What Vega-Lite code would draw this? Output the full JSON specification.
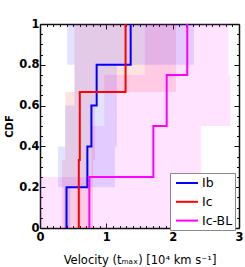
{
  "$schema": "https://vega.github.io/schema/vega-lite/v6.json",
  "width": 199,
  "height": 204,
  "autosize": "none",
  "padding": {"left": 40, "top": 24, "right": 6, "bottom": 39},
  "datasets": {
    "boxes": [
      {"sn": "Ic-BL", "x1": 0.0, "x2": 2.43, "y1": 0.0, "y2": 0.25},
      {"sn": "Ic-BL", "x1": 0.78, "x2": 2.43, "y1": 0.25, "y2": 0.5},
      {"sn": "Ic-BL", "x1": 0.97, "x2": 2.87, "y1": 0.5, "y2": 0.75},
      {"sn": "Ic-BL", "x1": 1.58, "x2": 2.84, "y1": 0.75, "y2": 1.0},
      {"sn": "Ic", "x1": 0.33, "x2": 0.8, "y1": 0.0, "y2": 0.3333},
      {"sn": "Ic", "x1": 0.38, "x2": 0.83, "y1": 0.3333, "y2": 0.6667},
      {"sn": "Ic", "x1": 0.52, "x2": 2.05, "y1": 0.6667, "y2": 1.0},
      {"sn": "Ib", "x1": 0.36, "x2": 0.46, "y1": 0.0, "y2": 0.2},
      {"sn": "Ib", "x1": 0.27, "x2": 1.13, "y1": 0.2, "y2": 0.4},
      {"sn": "Ib", "x1": 0.38, "x2": 1.16, "y1": 0.4, "y2": 0.6},
      {"sn": "Ib", "x1": 0.52, "x2": 1.16, "y1": 0.6, "y2": 0.8},
      {"sn": "Ib", "x1": 0.41, "x2": 2.32, "y1": 0.8, "y2": 1.0}
    ],
    "steps": [
      {"sn": "Ib", "o": 0, "v": 0.40, "c": 0},
      {"sn": "Ib", "o": 1, "v": 0.40, "c": 0.2},
      {"sn": "Ib", "o": 2, "v": 0.714, "c": 0.2},
      {"sn": "Ib", "o": 3, "v": 0.714, "c": 0.4},
      {"sn": "Ib", "o": 4, "v": 0.775, "c": 0.4},
      {"sn": "Ib", "o": 5, "v": 0.775, "c": 0.6},
      {"sn": "Ib", "o": 6, "v": 0.854, "c": 0.6},
      {"sn": "Ib", "o": 7, "v": 0.854, "c": 0.8},
      {"sn": "Ib", "o": 8, "v": 1.367, "c": 0.8},
      {"sn": "Ib", "o": 9, "v": 1.367, "c": 1.0},
      {"sn": "Ic", "o": 0, "v": 0.585, "c": 0},
      {"sn": "Ic", "o": 1, "v": 0.585, "c": 0.3333},
      {"sn": "Ic", "o": 2, "v": 0.60, "c": 0.3333},
      {"sn": "Ic", "o": 3, "v": 0.60, "c": 0.6667},
      {"sn": "Ic", "o": 4, "v": 1.29, "c": 0.6667},
      {"sn": "Ic", "o": 5, "v": 1.29, "c": 1.0},
      {"sn": "Ic-BL", "o": 0, "v": 0.744, "c": 0},
      {"sn": "Ic-BL", "o": 1, "v": 0.744, "c": 0.25},
      {"sn": "Ic-BL", "o": 2, "v": 1.709, "c": 0.25},
      {"sn": "Ic-BL", "o": 3, "v": 1.709, "c": 0.5},
      {"sn": "Ic-BL", "o": 4, "v": 1.91, "c": 0.5},
      {"sn": "Ic-BL", "o": 5, "v": 1.91, "c": 0.75},
      {"sn": "Ic-BL", "o": 6, "v": 2.22, "c": 0.75},
      {"sn": "Ic-BL", "o": 7, "v": 2.22, "c": 1.0}
    ]
  },
  "config": {
    "view": {"stroke": null},
    "axis": {
      "grid": false,
      "domainColor": "#111",
      "domainWidth": 1.5,
      "tickColor": "#111",
      "tickWidth": 1,
      "labelFont": "DejaVu Sans",
      "labelFontSize": 11.5,
      "labelFontWeight": "bold",
      "labelColor": "#000",
      "labelOverlap": false,
      "labelFlush": false,
      "labelBound": false,
      "titleFont": "DejaVu Sans",
      "titleColor": "#000"
    }
  },
  "layer": [
    {
      "data": {"name": "boxes"},
      "mark": {"type": "rect", "fillOpacity": 0.11, "strokeWidth": 0},
      "encoding": {
        "x": {
          "field": "x1", "type": "quantitative",
          "scale": {"domain": [0, 3], "nice": false, "zero": false},
          "axis": {
            "orient": "bottom",
            "values": [0,0.1,0.2,0.3,0.4,0.5,0.6,0.7,0.8,0.9,1,1.1,1.2,1.3,1.4,1.5,1.6,1.7,1.8,1.9,2,2.1,2.2,2.3,2.4,2.5,2.6,2.7,2.8,2.9,3],
            "labelExpr": "round(datum.value*10) % 10 === 0 ? format(datum.value, 'd') : ''",
            "tickSize": {"condition": {"test": "round(datum.value*10) % 10 === 0", "value": -5}, "value": -2.5},
            "labelPadding": 8,
            "title": "Velocity (tₘₐₓ) [10⁴ km s⁻¹]",
            "titleFontWeight": "normal",
            "titleFontSize": 11.5,
            "titlePadding": 9
          }
        },
        "x2": {"field": "x2"},
        "y": {
          "field": "y1", "type": "quantitative",
          "scale": {"domain": [0, 1], "nice": false},
          "axis": {
            "orient": "left",
            "values": [0,0.05,0.1,0.15,0.2,0.25,0.3,0.35,0.4,0.45,0.5,0.55,0.6,0.65,0.7,0.75,0.8,0.85,0.9,0.95,1],
            "labelExpr": "round(datum.value*20) % 4 === 0 ? format(datum.value, '~g') : ''",
            "tickSize": {"condition": {"test": "round(datum.value*20) % 4 === 0", "value": -5}, "value": -2.5},
            "labelPadding": 6,
            "title": "CDF",
            "titleFontWeight": "bold",
            "titleFontSize": 10,
            "titlePadding": 4
          }
        },
        "y2": {"field": "y2"},
        "fill": {
          "field": "sn", "type": "nominal",
          "scale": {"range": ["#0000ff", "#ff0000", "#ff00ff"]},
          "legend": null
        }
      }
    },
    {
      "data": {"name": "steps"},
      "mark": {"type": "line", "strokeWidth": 2},
      "encoding": {
        "x": {
          "field": "v", "type": "quantitative",
          "axis": {
            "orient": "top",
            "values": [0,0.1,0.2,0.3,0.4,0.5,0.6,0.7,0.8,0.9,1,1.1,1.2,1.3,1.4,1.5,1.6,1.7,1.8,1.9,2,2.1,2.2,2.3,2.4,2.5,2.6,2.7,2.8,2.9,3],
            "labels": false,
            "tickSize": {"condition": {"test": "round(datum.value*10) % 10 === 0", "value": -5}, "value": -2.5},
            "title": null
          }
        },
        "y": {
          "field": "c", "type": "quantitative",
          "axis": {
            "orient": "right",
            "values": [0,0.05,0.1,0.15,0.2,0.25,0.3,0.35,0.4,0.45,0.5,0.55,0.6,0.65,0.7,0.75,0.8,0.85,0.9,0.95,1],
            "labels": false,
            "tickSize": {"condition": {"test": "round(datum.value*20) % 4 === 0", "value": -5}, "value": -2.5},
            "title": null
          }
        },
        "color": {
          "field": "sn", "type": "nominal",
          "scale": {"domain": ["Ib", "Ic", "Ic-BL"], "range": ["#0000ff", "#ff0000", "#ff00ff"]},
          "legend": {
            "orient": "none",
            "legendX": 130,
            "legendY": 149,
            "title": null,
            "strokeColor": "#888",
            "fillColor": "#fff",
            "padding": 2,
            "symbolType": "M-1.57,0L1.57,0",
            "symbolSize": 196,
            "symbolStrokeWidth": 2,
            "symbolOffset": 7,
            "labelOffset": 7,
            "rowPadding": 3.8,
            "labelFont": "DejaVu Sans",
            "labelFontSize": 12.5,
            "labelColor": "#000"
          }
        },
        "order": {"field": "o", "type": "quantitative"}
      }
    }
  ],
  "resolve": {"axis": {"x": "independent", "y": "independent"}}
}
